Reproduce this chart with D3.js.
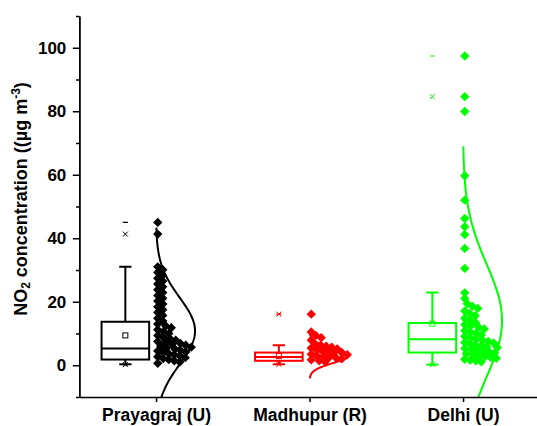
<!DOCTYPE html>
<html>
<head>
<meta charset="utf-8">
<script src="https://cdn.jsdelivr.net/npm/d3@7"></script>
<style>
body { margin: 0; background: #fff; }
text { font-family: "Liberation Sans", Arial, sans-serif; font-weight: bold; fill: #000; }
</style>
</head>
<body>
<div id="chart"></div>
<script>
// categories and colours
var sites = ["Prayagraj (U)", "Madhupur (R)", "Delhi (U)"];
var colors = ["#000000", "#ff0000", "#00ff00"];

// raw points (µg m-3)
var prayagraj = [45.0, 41.3,
    31.0, 30.1, 29.2, 28.3, 27.4, 26.5, 25.6, 24.7, 23.8, 22.9, 22.0, 21.1, 20.2, 19.3, 18.4, 17.5, 16.6,
    15.7, 14.8, 13.9, 13.0, 12.4,
    11.8, 11.2, 10.6, 10.0, 9.4, 8.8, 8.3, 7.9,
    7.5, 7.2, 6.9, 6.6, 6.3, 6.0, 5.7, 5.4, 5.1, 4.8, 4.5, 4.2, 3.9, 3.6, 3.3, 3.0,
    2.7, 2.4, 2.1, 1.8, 1.4, 1.0, 0.6];
var madhupur = [16.1, 10.5, 9.4, 8.7, 7.9,
    6.6, 6.3, 6.0, 5.7, 5.4, 5.1, 4.8, 4.5, 4.3, 4.0, 3.8, 3.5, 3.3, 3.0, 2.8, 2.5, 2.3, 2.0, 1.7, 1.4, 1.1];
var delhi = [97.4, 84.6, 79.9, 59.7, 52.0, 46.2, 43.6, 41.2, 36.8, 30.5, 22.8, 21.0, 19.4,
    18.6, 17.9, 17.1, 16.3, 15.6, 14.8, 14.1, 13.4,
    12.8, 12.3, 11.9, 11.4, 10.9, 10.5, 10.0, 9.5, 9.1, 8.6, 8.2,
    7.8, 7.5, 7.2, 7.0, 6.7, 6.4, 6.1, 5.8, 5.6, 5.3, 5.0, 4.7, 4.4, 4.2, 3.9, 3.6, 3.3, 3.0, 2.8, 2.5,
    2.2, 1.9, 1.6, 1.4, 1.1];
var points = [prayagraj, madhupur, delhi];

// box statistics per site
var q1 = [1.8, 1.4, 4.0];
var median = [5.3, 2.6, 8.2];
var q3 = [13.7, 4.0, 13.3];
var whiskLow = [0.3, 0.3, 0.2];
var whiskHigh = [31.0, 6.3, 22.9];
var means = [9.4, 2.9, 13.1];
var p1 = [0.2, 0.3, 0.2];
var p99 = [41.3, 16.1, 84.6];
var minV = [0.1, 0.3, 0.1];
var maxV = [45.0, 16.1, 97.4];

// normal curve parameters
var curveMean = [10.8, 3.0, 14.1];
var curveSD = [10.5, 2.3, 17.7];

var yTicks = [0, 20, 40, 60, 80, 100];
var yMinor = [-10, 10, 30, 50, 70, 90, 110];

var width = 537, height = 426;

var svg = d3.select("#chart")
    .append("svg")
    .attr("width", width)
    .attr("height", height);

var x = d3.scaleLinear().domain([0.5, 3.5]).range([79.3, 539.8]);
var y = d3.scaleLinear().domain([-10, 110]).range([397, 16]);

svg.append("defs").append("clipPath")
    .attr("id", "plot")
    .append("rect")
    .attr("x", 79.3).attr("y", 16)
    .attr("width", width - 79.3).attr("height", 381);

var plot = svg.append("g").attr("clip-path", "url(#plot)");

var boxShift = -0.2, boxW = 0.31, capW = 0.08, curveK = 0.254;

// one-sided beeswarm, points pushed to the right until they stop colliding
function swarm(vals, cx, D) {
    var placed = [];
    return vals.map(function(v) {
        var py = y(v), off = 0;
        while (placed.some(function(p) {
            var dx = p.x - (cx + off), dy = p.y - py;
            return dx * dx + dy * dy < D * D;
        })) { off += 0.5; }
        var pt = { x: cx + off, y: py };
        placed.push(pt);
        return pt;
    });
}

sites.forEach(function(s, i) {
    var c = colors[i];
    var cat = x(i + 1);
    var bx = x(i + 1 + boxShift);
    var half = (x(boxW) - x(0)) / 2;
    var cap = (x(capW) - x(0)) / 2;

    // distribution curve
    var lo = curveMean[i] - 3.1 * curveSD[i], hi = curveMean[i] + 3.1 * curveSD[i];
    var curve = d3.range(lo, hi + 0.01, (hi - lo) / 200).map(function(v) {
        var z = (v - curveMean[i]) / curveSD[i];
        return [x(i + 1 + curveK * Math.exp(-z * z / 2)), y(v)];
    });
    plot.append("path")
        .attr("d", d3.line()(curve))
        .attr("fill", "none")
        .attr("stroke", c)
        .attr("stroke-width", 2);

    // data points
    var pts = swarm(points[i], cat + 1.7, 5.5);
    plot.selectAll(".pt" + i)
        .data(pts)
        .enter().append("path")
        .attr("class", "pt" + i)
        .attr("transform", function(d) { return "translate(" + d.x + "," + d.y + ")"; })
        .attr("d", "M0,-4.7L4.7,0L0,4.7L-4.7,0Z")
        .attr("fill", c);

    // whiskers
    var g = plot.append("g").attr("stroke", c).attr("fill", "none");
    g.append("line").attr("x1", bx).attr("x2", bx).attr("y1", y(q3[i])).attr("y2", y(whiskHigh[i])).attr("stroke-width", 2);
    g.append("line").attr("x1", bx).attr("x2", bx).attr("y1", y(q1[i])).attr("y2", y(whiskLow[i])).attr("stroke-width", 2);
    g.append("line").attr("x1", bx - cap).attr("x2", bx + cap).attr("y1", y(whiskHigh[i])).attr("y2", y(whiskHigh[i])).attr("stroke-width", 2);
    g.append("line").attr("x1", bx - cap).attr("x2", bx + cap).attr("y1", y(whiskLow[i])).attr("y2", y(whiskLow[i])).attr("stroke-width", 2);

    // box and median
    g.append("rect")
        .attr("x", bx - half).attr("y", y(q3[i]))
        .attr("width", half * 2).attr("height", y(q1[i]) - y(q3[i]))
        .attr("fill", "#fff").attr("stroke-width", 2);
    g.append("line").attr("x1", bx - half).attr("x2", bx + half).attr("y1", y(median[i])).attr("y2", y(median[i])).attr("stroke-width", 2);

    // mean square
    g.append("rect")
        .attr("x", bx - 2.5).attr("y", y(means[i]) - 2.5)
        .attr("width", 5).attr("height", 5)
        .attr("stroke-width", 1);

    // 1% / 99% crosses and min / max dashes
    [p1[i], p99[i]].forEach(function(v) {
        g.append("path")
            .attr("d", "M" + (bx - 2.5) + "," + (y(v) - 2.5) + "l5,5M" + (bx + 2.5) + "," + (y(v) - 2.5) + "l-5,5")
            .attr("stroke-width", 1);
    });
    [minV[i], maxV[i]].forEach(function(v) {
        g.append("line").attr("x1", bx - 2.5).attr("x2", bx + 2.5).attr("y1", y(v)).attr("y2", y(v)).attr("stroke-width", 1.2);
    });
});

// axes
var yAxis = svg.append("g")
    .attr("transform", "translate(79.3,0)")
    .call(d3.axisLeft(y).tickValues(yTicks).tickSize(6.5).tickSizeOuter(0).tickPadding(6.5));
yAxis.selectAll("text").style("font-size", "17px");

svg.append("g")
    .attr("transform", "translate(79.3,0)")
    .call(d3.axisLeft(y).tickValues(yMinor).tickSize(3.3).tickSizeOuter(0).tickFormat(""));

var xAxis = svg.append("g")
    .attr("transform", "translate(0,397)")
    .call(d3.axisBottom(x).tickValues([1, 2, 3]).tickSize(5).tickSizeOuter(0).tickPadding(7)
        .tickFormat(function(d) { return sites[d - 1]; }));
xAxis.selectAll("text").style("font-size", "17.5px");

svg.selectAll(".domain, .tick line").attr("stroke", "#000").attr("stroke-width", 1.5);
svg.selectAll(".tick text").attr("fill", "#000");

// y axis title
var title = svg.append("text")
    .attr("transform", "translate(27,199) rotate(-90)")
    .attr("text-anchor", "middle")
    .style("font-size", "18px");
title.append("tspan").text("NO");
title.append("tspan").attr("baseline-shift", "-25%").style("font-size", "12px").text("2");
title.append("tspan").text(" concentration ((µg m");
title.append("tspan").attr("baseline-shift", "super").style("font-size", "12px").text("-3");
title.append("tspan").text(")");
</script>
</body>
</html>
